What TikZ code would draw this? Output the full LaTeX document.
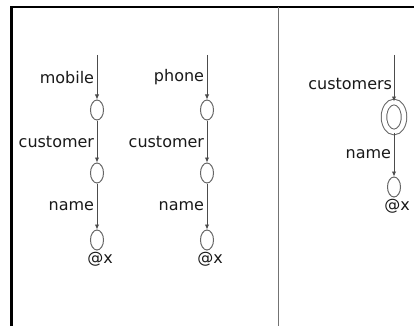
\documentclass[tikz,border=0pt]{standalone}
\usepackage{fontspec}
\setmainfont{DejaVu Sans}
\usetikzlibrary{positioning}
\usetikzlibrary{shapes.geometric}
\usetikzlibrary{arrows.meta}

\begin{document}
\begin{tikzpicture}[x=1pt, y=-1pt,
                            state/.style={draw=black!60, line width=1pt, ellipse, inner sep=0pt, minimum width=13pt, minimum height=20pt},
                            rootstate/.style={state, double, double distance=4.5pt, minimum width=20pt, minimum height=30pt},
                            edge/.style={draw=black!70, line width=0.9pt, -{Latex[length=5pt, width=4.5pt]}},
                            lbl/.style={font=\fontsize{16}{19}\selectfont, text=black!90, inner sep=2.5pt}]
                            \useasboundingbox (0, 0) rectangle (414, 326);
                            % frame and divider
                            \draw[black, line width=3pt] (11, 326)--(11, 7.5);
                            \draw[black, line width=2pt] (10, 7.5)--(414, 7.5);
                            \draw[black!55, line width=1pt] (278, 7.5)--(278, 326);
                            % mobile path
                            \coordinate (m0) at (97, 55);
                            \node[state] (m1) at (97, 110) {};
                            \node[state] (m2) at (97, 173) {};
                            \node[state] (m3) at (97, 240) {};
                            \draw[edge] (m0)--(m1) node[lbl, midway, left] {mobile};
                            \draw[edge] (m1)--(m2) node[lbl, midway, left] {customer};
                            \draw[edge] (m2)--(m3) node[lbl, midway, left] {name};
                            \node[lbl, below=-1pt of m3, xshift=3pt] (mx) {@x};
                            % phone path
                            \coordinate (p0) at (207, 55);
                            \node[state] (p1) at (207, 110) {};
                            \node[state] (p2) at (207, 173) {};
                            \node[state] (p3) at (207, 240) {};
                            \draw[edge] (p0)--(p1) node[lbl, midway, left] {phone};
                            \draw[edge] (p1)--(p2) node[lbl, midway, left] {customer};
                            \draw[edge] (p2)--(p3) node[lbl, midway, left] {name};
                            \node[lbl, below=-1pt of p3, xshift=3pt] (px) {@x};
                            % customers path
                            \coordinate (c0) at (394, 55);
                            \node[rootstate] (c1) at (394, 117) {};
                            \node[state] (c2) at (394, 187) {};
                            \draw[edge] (c0)--(c1) node[lbl, pos=0.62, left, inner sep=1.5pt] {customers};
                            \draw[edge] (c1)--(c2) node[lbl, midway, left] {name};
                            \node[lbl, below=-1pt of c2, xshift=3pt] (cx) {@x};
                        \end{tikzpicture}
\end{document}
